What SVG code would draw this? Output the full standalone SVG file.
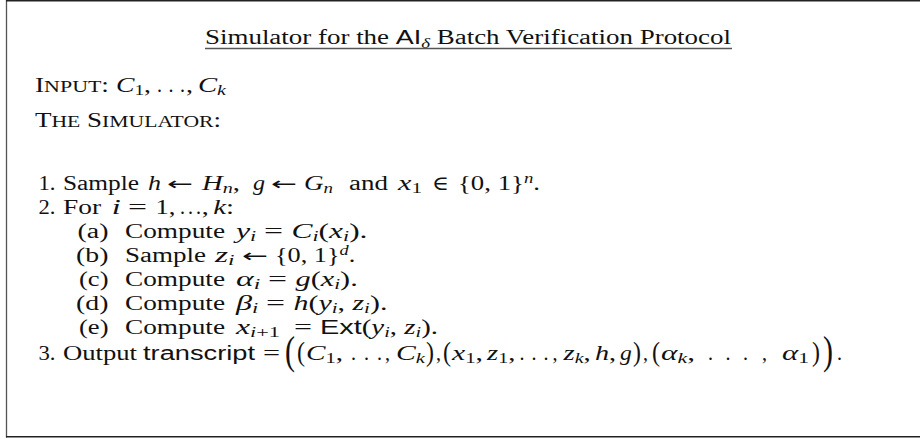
<svg xmlns="http://www.w3.org/2000/svg" width="920" height="439" viewBox="0 0 920 439">
<style>
text { font-family: "Liberation Serif", "DejaVu Serif", serif; font-size: 20px; fill: #111; }
.i { font-style: italic; }
.s { font-family: "Liberation Sans", "DejaVu Sans", sans-serif; font-style: normal; }
.b { font-size: 14px; }
.sc { font-size: 16px; }
.ar { font-family: "DejaVu Sans", sans-serif; font-size: 18px; }
.rule { stroke: #222; stroke-width: 1.4; fill: none; }
</style>
<rect width="920" height="439" fill="#fff"/>
<g id="frame">
<line class="rule" x1="6.5" y1="0" x2="6.5" y2="437.5" style="stroke:#555;stroke-width:1.3"/>
<line class="rule" x1="6" y1="0.8" x2="920" y2="0.8"/>
<line class="rule" x1="6" y1="436.8" x2="920" y2="436.8"/>
</g>
<g id="title">
<text x="205" y="44" textLength="526" lengthAdjust="spacingAndGlyphs">Simulator for the <tspan class="s">AI</tspan><tspan class="i b" dy="4">δ</tspan><tspan dy="-4"> Batch Verification Protocol</tspan></text>
<line x1="205" y1="48.5" x2="732" y2="48.5" stroke="#555" stroke-width="1.3"/>
</g>
<g id="input">
<text x="35" y="92" textLength="74" lengthAdjust="spacingAndGlyphs">I<tspan class="sc">NPUT</tspan>:</text>
<text x="116" y="92" textLength="35" lengthAdjust="spacingAndGlyphs"><tspan class="i">C</tspan><tspan class="b" dy="3">1</tspan><tspan dy="-3">,</tspan></text>
<text x="157" y="92" textLength="28" lengthAdjust="spacing">...</text>
<text x="186" y="92" textLength="7" lengthAdjust="spacingAndGlyphs">,</text>
<text x="198" y="92" textLength="28" lengthAdjust="spacingAndGlyphs"><tspan class="i">C</tspan><tspan class="i b" dy="3">k</tspan></text>
</g>
<g id="simulator-heading">
<text x="35" y="127" textLength="186" lengthAdjust="spacingAndGlyphs">T<tspan class="sc">HE</tspan> S<tspan class="sc">IMULATOR</tspan>:</text>
</g>
<g id="step1">
<text x="38.5" y="190" textLength="17" lengthAdjust="spacingAndGlyphs">1.</text>
<text x="63" y="190" textLength="76" lengthAdjust="spacingAndGlyphs">Sample</text>
<text class="i" x="148" y="190" textLength="13" lengthAdjust="spacingAndGlyphs">h</text>
<text class="ar" x="167" y="190" textLength="26" lengthAdjust="spacingAndGlyphs">←</text>
<text x="202" y="190" textLength="38" lengthAdjust="spacingAndGlyphs"><tspan class="i">H</tspan><tspan class="i b" dy="3">n</tspan><tspan dy="-3">,</tspan></text>
<text class="i" x="253" y="190" textLength="12" lengthAdjust="spacingAndGlyphs">g</text>
<text class="ar" x="271" y="190" textLength="26" lengthAdjust="spacingAndGlyphs">←</text>
<text x="304" y="190" textLength="29" lengthAdjust="spacingAndGlyphs"><tspan class="i">G</tspan><tspan class="i b" dy="3">n</tspan></text>
<text x="349" y="190" textLength="39" lengthAdjust="spacingAndGlyphs">and</text>
<text x="398" y="190" textLength="24" lengthAdjust="spacingAndGlyphs"><tspan class="i">x</tspan><tspan class="b" dy="3">1</tspan></text>
<text x="432" y="190" textLength="17" lengthAdjust="spacingAndGlyphs">∈</text>
<text x="458" y="190" textLength="82" lengthAdjust="spacingAndGlyphs">{0, 1}<tspan class="i b" dy="-7">n</tspan><tspan dy="7">.</tspan></text>
</g>
<g id="step2">
<text x="38.5" y="214" textLength="17" lengthAdjust="spacingAndGlyphs">2.</text>
<text x="63" y="214" textLength="38" lengthAdjust="spacingAndGlyphs">For</text>
<text class="i" x="111.8" y="214" textLength="9" lengthAdjust="spacingAndGlyphs">i</text>
<text x="128" y="214" textLength="19" lengthAdjust="spacingAndGlyphs">=</text>
<text x="155.5" y="214" textLength="20" lengthAdjust="spacingAndGlyphs">1,</text>
<text x="180" y="214" textLength="21" lengthAdjust="spacing">...</text>
<text x="201.7" y="214" textLength="7" lengthAdjust="spacingAndGlyphs">,</text>
<text x="213.3" y="214" textLength="20.8" lengthAdjust="spacingAndGlyphs"><tspan class="i">k</tspan>:</text>
</g>
<g id="step2a">
<text x="77.5" y="238" textLength="31" lengthAdjust="spacingAndGlyphs">(a)</text>
<text x="125" y="238" textLength="100" lengthAdjust="spacingAndGlyphs">Compute</text>
<text x="236" y="238" textLength="20.3" lengthAdjust="spacingAndGlyphs"><tspan class="i">y</tspan><tspan class="i b" dy="3">i</tspan></text>
<text x="264" y="238" textLength="19" lengthAdjust="spacingAndGlyphs">=</text>
<text x="291.5" y="238" textLength="76" lengthAdjust="spacingAndGlyphs"><tspan class="i">C</tspan><tspan class="i b" dy="3">i</tspan><tspan dy="-3">(</tspan><tspan class="i">x</tspan><tspan class="i b" dy="3">i</tspan><tspan dy="-3">).</tspan></text>
</g>
<g id="step2b">
<text x="76" y="262" textLength="32.4" lengthAdjust="spacingAndGlyphs">(b)</text>
<text x="125" y="262" textLength="81" lengthAdjust="spacingAndGlyphs">Sample</text>
<text x="215" y="262" textLength="19.6" lengthAdjust="spacingAndGlyphs"><tspan class="i">z</tspan><tspan class="i b" dy="3">i</tspan></text>
<text class="ar" x="242" y="262" textLength="26" lengthAdjust="spacingAndGlyphs">←</text>
<text x="275" y="262" textLength="80.3" lengthAdjust="spacingAndGlyphs">{0, 1}<tspan class="i b" dy="-7">d</tspan><tspan dy="7">.</tspan></text>
</g>
<g id="step2c">
<text x="79" y="286" textLength="29.5" lengthAdjust="spacingAndGlyphs">(c)</text>
<text x="125" y="286" textLength="100" lengthAdjust="spacingAndGlyphs">Compute</text>
<text x="236" y="286" textLength="24.2" lengthAdjust="spacingAndGlyphs"><tspan class="i">α</tspan><tspan class="i b" dy="3">i</tspan></text>
<text x="268" y="286" textLength="19" lengthAdjust="spacingAndGlyphs">=</text>
<text x="295.5" y="286" textLength="62.3" lengthAdjust="spacingAndGlyphs"><tspan class="i">g</tspan>(<tspan class="i">x</tspan><tspan class="i b" dy="3">i</tspan><tspan dy="-3">).</tspan></text>
</g>
<g id="step2d">
<text x="76" y="310" textLength="32.4" lengthAdjust="spacingAndGlyphs">(d)</text>
<text x="125" y="310" textLength="100" lengthAdjust="spacingAndGlyphs">Compute</text>
<text x="236" y="310" textLength="22.3" lengthAdjust="spacingAndGlyphs"><tspan class="i">β</tspan><tspan class="i b" dy="3">i</tspan></text>
<text x="266" y="310" textLength="19" lengthAdjust="spacingAndGlyphs">=</text>
<text x="293.5" y="310" textLength="93.9" lengthAdjust="spacingAndGlyphs"><tspan class="i">h</tspan>(<tspan class="i">y</tspan><tspan class="i b" dy="3">i</tspan><tspan dy="-3">, </tspan><tspan class="i">z</tspan><tspan class="i b" dy="3">i</tspan><tspan dy="-3">).</tspan></text>
</g>
<g id="step2e">
<text x="79" y="334" textLength="29.5" lengthAdjust="spacingAndGlyphs">(e)</text>
<text x="125" y="334" textLength="100" lengthAdjust="spacingAndGlyphs">Compute</text>
<text x="236" y="334" textLength="44" lengthAdjust="spacingAndGlyphs"><tspan class="i">x</tspan><tspan class="b" dy="3"><tspan class="i">i</tspan>+1</tspan></text>
<text x="294" y="334" textLength="18" lengthAdjust="spacingAndGlyphs">=</text>
<text x="320" y="334" textLength="118" lengthAdjust="spacingAndGlyphs"><tspan class="s">Ext</tspan>(<tspan class="i">y</tspan><tspan class="i b" dy="3">i</tspan><tspan dy="-3">, </tspan><tspan class="i">z</tspan><tspan class="i b" dy="3">i</tspan><tspan dy="-3">).</tspan></text>
</g>
<g id="step3">
<text x="38.5" y="360" textLength="17" lengthAdjust="spacingAndGlyphs">3.</text>
<text x="63" y="360" textLength="74" lengthAdjust="spacingAndGlyphs">Output</text>
<text class="s" x="143" y="360" textLength="112" lengthAdjust="spacingAndGlyphs">transcript</text>
<text x="263" y="360" textLength="17" lengthAdjust="spacingAndGlyphs">=</text>
<text transform="translate(285,354.5) scale(1.5,2.05)" y="4.75">(</text>
<text transform="translate(297,354.5) scale(1.2,1.33)" y="4.75">(</text>
<text x="306" y="360" textLength="37" lengthAdjust="spacingAndGlyphs"><tspan class="i">C</tspan><tspan class="b" dy="3">1</tspan><tspan dy="-3">,</tspan></text>
<text x="351" y="360" textLength="31" lengthAdjust="spacing">...</text>
<text x="385" y="360">,</text>
<text x="396" y="360" textLength="29" lengthAdjust="spacingAndGlyphs"><tspan class="i">C</tspan><tspan class="i b" dy="3">k</tspan></text>
<text transform="translate(426,354.5) scale(1.2,1.33)" y="4.75">)</text>
<text x="436" y="360">,</text>
<text transform="translate(443,354.5) scale(1.2,1.33)" y="4.75">(</text>
<text x="452" y="360" textLength="31" lengthAdjust="spacingAndGlyphs"><tspan class="i">x</tspan><tspan class="b" dy="3">1</tspan><tspan dy="-3">,</tspan></text>
<text x="487" y="360" textLength="28.3" lengthAdjust="spacingAndGlyphs"><tspan class="i">z</tspan><tspan class="b" dy="3">1</tspan><tspan dy="-3">,</tspan></text>
<text x="519.6" y="360" textLength="28.8" lengthAdjust="spacing">...</text>
<text x="552.5" y="360">,</text>
<text x="563.5" y="360" textLength="27.3" lengthAdjust="spacingAndGlyphs"><tspan class="i">z</tspan><tspan class="i b" dy="3">k</tspan><tspan dy="-3">,</tspan></text>
<text x="595" y="360" textLength="21.1" lengthAdjust="spacingAndGlyphs"><tspan class="i">h</tspan>,</text>
<text class="i" x="620" y="360" textLength="11.8" lengthAdjust="spacingAndGlyphs">g</text>
<text transform="translate(633,354.5) scale(1.2,1.33)" y="4.75">)</text>
<text x="643" y="360">,</text>
<text transform="translate(652,354.5) scale(1.2,1.33)" y="4.75">(</text>
<text x="661" y="360" textLength="34" lengthAdjust="spacingAndGlyphs"><tspan class="i">α</tspan><tspan class="i b" dy="3">k</tspan><tspan dy="-3">,</tspan></text>
<text x="708" y="360" textLength="40" lengthAdjust="spacing">...</text>
<text x="762" y="360">,</text>
<text x="782" y="360" textLength="27" lengthAdjust="spacingAndGlyphs"><tspan class="i">α</tspan><tspan class="b" dy="3">1</tspan></text>
<text transform="translate(812,354.5) scale(1.2,1.33)" y="4.75">)</text>
<text transform="translate(823,354.5) scale(1.5,2.05)" y="4.75">)</text>
<text x="837" y="360">.</text>
</g>
</svg>
